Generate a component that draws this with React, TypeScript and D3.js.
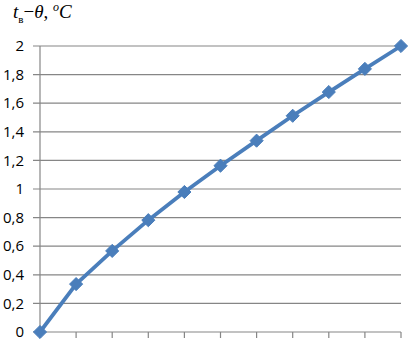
import React from "react";
import * as d3 from "d3";

const xValues = [0, 1, 2, 3, 4, 5, 6, 7, 8, 9, 10];
const yValues = [0, 0.335, 0.567, 0.782, 0.979, 1.163, 1.338, 1.512, 1.678, 1.84, 2.0];
const yTicks = [0, 0.2, 0.4, 0.6, 0.8, 1, 1.2, 1.4, 1.6, 1.8, 2];

export default function App() {
  const W = 409, H = 340;
  const x = d3.scaleLinear().domain([0, 10]).range([40, 401]);
  const y = d3.scaleLinear().domain([0, 2]).range([332, 46]);
  const line = d3.line<number>().x((_, i) => x(xValues[i])).y((d) => y(d));
  const fmt = (v: number) => String(+v.toFixed(1)).replace(".", ",");
  const diamond = d3.symbol().type(d3.symbolDiamond2).size(110)();
  return (
    <svg width={W} height={H} style={{ position: "absolute", left: 0, top: 0 }}>
      <rect width={W} height={H} fill="#fff" />
      {yTicks.map((t) => (
        <g key={t}>
          <line x1={33} x2={401} y1={y(t)} y2={y(t)} stroke="#868686" strokeWidth={1.2} />
          <text x={24} y={y(t)} dy="0.35em" textAnchor="end" fontFamily="'Open Sans', sans-serif" fontSize={15} fill="#000">
            {fmt(t)}
          </text>
        </g>
      ))}
      <line x1={40} x2={40} y1={y(2)} y2={y(0)} stroke="#868686" strokeWidth={1.2} />
      {xValues.map((v) => (
        <line key={v} x1={x(v)} x2={x(v)} y1={y(0)} y2={y(0) + 6} stroke="#868686" strokeWidth={1.2} />
      ))}
      <path d={line(yValues) || ""} fill="none" stroke="#4a7ebb" strokeWidth={3.8} strokeLinejoin="round" />
      {yValues.map((v, i) => (
        <path key={i} d={diamond || ""} transform={`translate(${x(xValues[i])},${y(v)})`} fill="#4a7ebb" stroke="#4a7ebb" strokeWidth={1} />
      ))}
      <text x={13} y={18} fontFamily="'Liberation Serif', serif" fontSize={19} fill="#000">
        <tspan fontStyle="italic">t</tspan>
        <tspan fontSize={11} dy={5}>в</tspan>
        <tspan dy={-5}>−</tspan>
        <tspan fontStyle="italic">θ</tspan>
        <tspan>, </tspan>
        <tspan fontSize={12} dy={-7} fontStyle="italic">o</tspan>
        <tspan dy={7} fontStyle="italic">C</tspan>
      </text>
    </svg>
  );
}
